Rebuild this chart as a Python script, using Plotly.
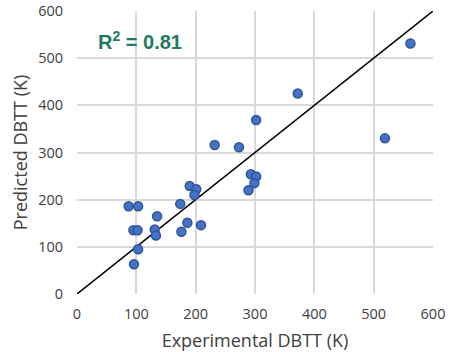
import plotly.graph_objects as go

exp_dbtt = [562, 372, 519, 302, 232, 273, 293, 302, 299, 289, 190, 201, 198,
            174, 87, 103, 135, 186, 209, 176, 95, 102, 131, 133, 103, 96]
pred_dbtt = [531, 425, 330, 369, 316, 311, 254, 249, 235, 220, 229, 222, 210,
             191, 186, 186, 165, 151, 146, 132, 135, 135, 137, 124, 95, 63]
line_x = [0, 600]
line_y = [0, 600]
ticks = [0, 100, 200, 300, 400, 500, 600]

font_fam = "Open Sans, DejaVu Sans, sans-serif"

fig = go.Figure()
fig.add_trace(go.Scatter(x=line_x, y=line_y, mode="lines",
                         line=dict(color="black", width=1.5), showlegend=False,
                         hoverinfo="skip"))
fig.add_trace(go.Scatter(x=exp_dbtt, y=pred_dbtt, mode="markers",
                         marker=dict(size=9, color="#4472C4",
                                     line=dict(color="#2F5597", width=1.5)),
                         showlegend=False))

axis_common = dict(range=[0, 600], tickvals=ticks, showgrid=True,
                   gridcolor="#D9D9D9", gridwidth=1.5, zeroline=False,
                   showline=False, ticks="", automargin=False,
                   tickfont=dict(family=font_fam, size=14.5, color="#404040"))

fig.update_xaxes(title=dict(text="Experimental DBTT (K)", standoff=12,
                            font=dict(family=font_fam, size=18, color="#404040")),
                 ticklabelstandoff=9, **axis_common)
fig.update_yaxes(title=dict(text="Predicted DBTT (K)", standoff=5,
                            font=dict(family=font_fam, size=18, color="#404040")),
                 ticklabelstandoff=13, **axis_common)

fig.add_annotation(x=32, y=538, xref="x", yref="y", xanchor="left", yanchor="middle",
                   text="<b>R<sup>2</sup> = 0.81</b>", showarrow=False,
                   font=dict(family="Liberation Sans, Arial, sans-serif", size=20,
                             color="#1F7A5E"))

fig.update_layout(width=450, height=352, margin=dict(l=77, r=17, t=11, b=58),
                  plot_bgcolor="white", paper_bgcolor="white")

fig.write_html("out.html")
